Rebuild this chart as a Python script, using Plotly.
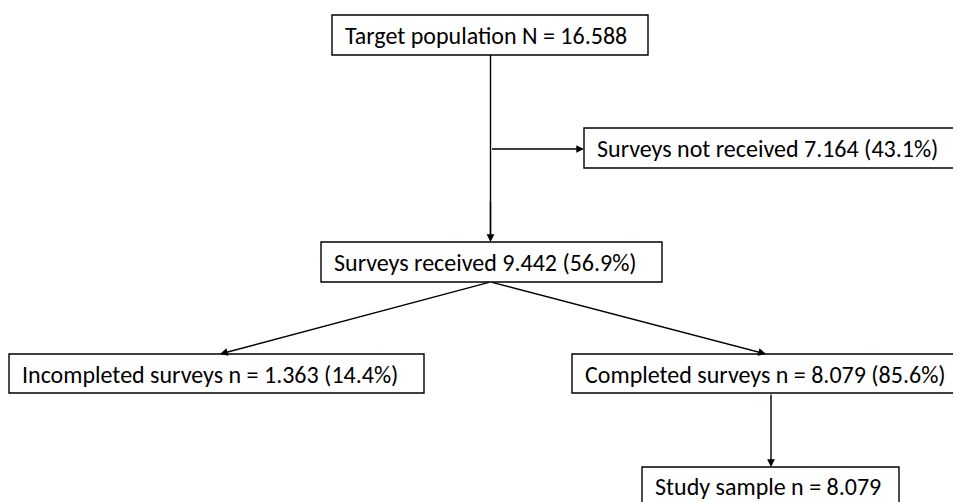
import plotly.graph_objects as go

# ---- data ----
node_names = ["Target population", "Surveys not received", "Surveys received",
              "Incompleted surveys", "Completed surveys", "Study sample"]
counts = [16588, 7164, 9442, 1363, 8079, 8079]
percents = [None, 43.1, 56.9, 14.4, 85.6, None]
label_fmt = ["{name} N = {n}", "{name} {n} ({p}%)", "{name} {n} ({p}%)",
             "{name} n = {n} ({p}%)", "{name} n = {n} ({p}%)", "{name} n = {n}"]


def fmt_n(v):
    return f"{v:,}".replace(",", ".")


labels = [f.format(name=nm, n=fmt_n(c), p=p) for f, nm, c, p in
          zip(label_fmt, node_names, counts, percents)]

# ---- layout geometry (pixel space of the page) ----
W, H = 961, 502
OFF = 8  # page body margin
boxes = [  # x0, y0, x1, y1
    (332, 15, 648, 55),
    (584, 128, 962, 168),
    (321, 242, 662, 282),
    (9, 354, 424, 393),
    (572, 354, 962, 393),
    (642, 467, 899, 530),
]
text_y = [35, 148, 262, 374, 374, 486]
text_pad = 11
font = dict(family="Carlito, Calibri, Lato, sans-serif", size=24, color="black")

fig = go.Figure()
fig.add_trace(go.Scatter(x=[OFF, W + OFF], y=[OFF, H + OFF], mode="markers",
                         marker=dict(opacity=0), hoverinfo="skip", showlegend=False))

for (x0, y0, x1, y1), ty, lab in zip(boxes, text_y, labels):
    fig.add_shape(type="rect", x0=x0, y0=y0, x1=x1, y1=y1,
                  line=dict(color="black", width=1.4), fillcolor="white")
    fig.add_annotation(x=x0 + text_pad, y=ty,
                       text=lab, showarrow=False, xanchor="left", yanchor="middle",
                       font=font)

line_style = dict(color="black", width=1.4)
cx = 490.5
fig.add_shape(type="line", x0=cx, y0=55, x1=cx, y1=236, line=line_style)


def arrow(x_from, y_from, x_to, y_to):
    fig.add_annotation(x=x_to, y=y_to, ax=x_from, ay=y_from,
                       xref="x", yref="y", axref="x", ayref="y",
                       showarrow=True, arrowhead=2, arrowsize=1.1, arrowwidth=1.4,
                       arrowcolor="black", text="")


arrow(cx, 200, cx, 242)
arrow(cx, 149, 584, 149)
arrow(cx, 282, 220, 354)
arrow(cx, 282, 766, 354)
arrow(771, 393, 771, 467)

fig.update_xaxes(range=[OFF, W + OFF], visible=False, fixedrange=True)
fig.update_yaxes(range=[H + OFF, OFF], visible=False, fixedrange=True)
fig.update_layout(width=W, height=H, margin=dict(l=0, r=0, t=0, b=0),
                  plot_bgcolor="white", paper_bgcolor="white", showlegend=False)

fig.write_html("out.html")
